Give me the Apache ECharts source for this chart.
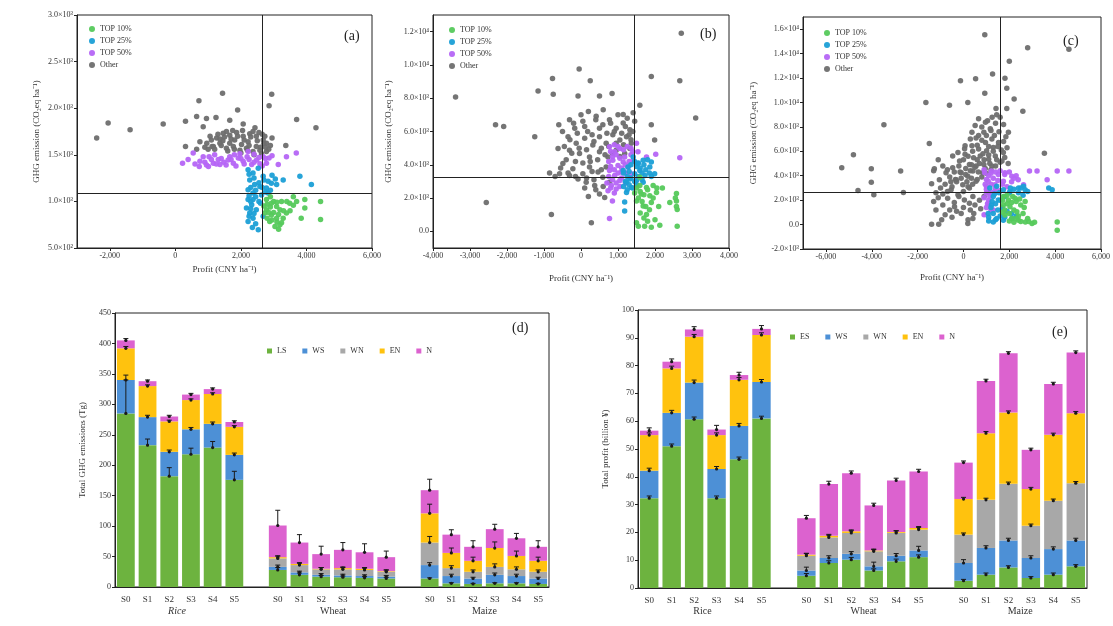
<!DOCTYPE html>
<html><head><meta charset="utf-8">
<script src="https://cdn.jsdelivr.net/npm/echarts@6/dist/echarts.min.js"></script>
<style>html,body{margin:0;padding:0;background:#fff}#c{width:1113px;height:626px}</style>
</head><body><div id="c"></div>
<script>
// ---------- Panel (a) ----------
const aTop10 = [[2780,1020],[2930,980],[3090,945],[3240,1000],[2780,910],[2930,855],[3090,820],[2880,785],[3040,730],[3240,770],[3390,875],[3490,980],[3700,1000],[3950,1020],[3950,930],[3840,820],[4430,1000],[4430,805],[3190,750],[3190,910],[2730,875],[3290,820],
  [2800,970],[2900,940],[3000,1000],[3100,990],[2850,880],[3000,880],[3150,860],[3300,900],[2950,800],[3100,780],[2800,820],[2700,950],[3400,1000],[3600,960],[3500,900],[2900,1050],[3150,700],[3600,1050]];
const aTop25 = [[2220,1340],[2370,1305],[2530,1355],[2680,1270],[2830,1215],[2270,1230],[2420,1180],[2580,1160],[2780,1145],[2930,1195],[2220,1125],[2370,1090],[2630,1070],[2830,1090],[3090,1180],[3290,1230],[3800,1270],[4150,1180],[2220,1020],[2330,965],[2270,875],[2370,820],[2220,785],[2530,695],[2680,840],[2470,910],[2170,930],[2370,1020],
  [2250,1290],[2400,1250],[2550,1200],[2700,1230],[2300,1150],[2450,1120],[2650,1150],[2750,1100],[2900,1120],[2250,1060],[2450,1050],[2550,1000],[2300,920],[2400,870],[2600,980],[2250,840],[2450,760],[2350,720],[2300,1000],[3050,1240],[2950,1280]];
const aTop50 = [[220,1410],[390,1450],[545,1520],[730,1375],[900,1420],[1030,1480],[1160,1410],[1310,1450],[1480,1420],[1660,1480],[1770,1410],[1920,1465],[2070,1430],[2190,1480],[2330,1395],[2480,1445],[2680,1480],[2780,1410],[2860,1465],[3140,1395],[3690,1520],[3390,1480],[850,1480],[1360,1395],[1010,1375],[1610,1445],[1970,1510],[2220,1535],[2580,1405],
  [600,1400],[750,1430],[1100,1450],[1250,1400],[1400,1460],[1550,1390],[1700,1450],[1850,1380],[2000,1460],[2100,1400],[2250,1450],[2400,1420],[2550,1470],[2650,1380],[2750,1460],[2950,1490],[1200,1500],[1800,1500],[2400,1505],[950,1390]];
const aOther = [[-2400,1680],[-2050,1840],[-1380,1770],[-370,1830],[310,1860],[310,1590],[720,2080],[650,1910],[950,1890],[850,1800],[1240,1900],[1440,2160],[1660,1870],[1900,1980],[2070,1830],[2430,1790],[2940,2150],[2860,2025],[3700,1880],[4290,1790],[3370,1600],[1120,1590],[1060,1700],[1260,1680],[1460,1730],[1660,1710],[1870,1740],[2070,1700],[2270,1725],[2470,1700],[2680,1660],[2780,1625],[960,1625],[1160,1590],[1360,1625],[1560,1570],[1770,1590],[1970,1550],[2170,1570],[2370,1535],[2580,1550],[2780,1535],[750,1640],[1810,1660],[2220,1640],[1360,1670],[1660,1625],[2020,1610],[2470,1590],[2630,1510],[2730,1700],[2370,1750],[1560,1750],
  [1100,1660],[1300,1720],[1500,1690],[1700,1670],[1900,1700],[2100,1660],[2300,1690],[2500,1650],[2700,1620],[2900,1600],[1200,1560],[1400,1600],[1600,1540],[1800,1560],[2000,1520],[2200,1550],[2400,1500],[2600,1580],[2850,1560],[900,1580],[1000,1560],[2050,1760],[1750,1760],[2550,1740],[2950,1680],[2250,1600],[1450,1650],[650,1560],[2750,1580],[2650,1720]];
const aRefX = 2640, aRefY = 1090;
const aXTicks = [-2000,0,2000,4000,6000];

// ---------- Panel (b) ----------
const bTop10 = [[1590,2750],[1770,2640],[1950,2750],[1630,2240],[1860,2140],[1500,1830],[1680,1530],[1900,1730],[1770,1020],[1500,510],[1720,310],[1900,240],[2130,370],[2580,2280],[2580,1830],[2600,1320],[2400,1730],[2600,310],[2040,2340],[1590,3250],
  [1500,2600],[1600,2400],[1700,2200],[1800,2500],[1550,2000],[1650,1800],[1750,1500],[1850,1300],[1950,2000],[2050,2600],[1600,1100],[1700,800],[1800,600],[1550,300],[2000,700],[2200,2600],[2550,2000],[2580,1500],[1450,2300],[2100,1500]];
const bTop25 = [[1410,4470],[1540,4070],[1680,4270],[1860,3860],[1990,3460],[1590,3660],[1450,3460],[1320,3150],[1230,2950],[1500,3050],[1730,3360],[1900,4170],[1230,2340],[1180,1770],[1180,1220],[1360,2640],[1140,3660],[1270,3860],[1680,2950],
  [1150,3500],[1250,3300],[1350,3200],[1450,3000],[1550,3300],[1650,3500],[1750,3700],[1850,3500],[1200,3000],[1300,2800],[1400,2600],[1500,2800],[1600,3800],[1700,4000],[1800,4300],[1450,4200],[1350,4000],[1550,4100],[1250,2500],[1150,2700],[1650,3100],[1900,3300],[1500,3900],[1300,3600]];
const bTop50 = [[770,5080],[910,4780],[1050,4980],[1180,4470],[860,4270],[1000,3960],[1140,4170],[1270,3860],[1410,4270],[770,3660],[910,3360],[1050,3050],[820,2750],[730,2440],[950,2540],[1540,4780],[1770,4470],[2020,4640],[2670,4430],[850,1830],[770,770],[1500,5290],[1360,3460],[1090,3560],
  [750,4200],[850,4500],[950,4600],[1050,4400],[1150,4900],[1250,5100],[1350,4600],[800,3900],[900,3700],[1000,3500],[1100,3800],[1200,4000],[1300,4200],[750,3300],[850,3100],[950,2900],[1050,2700],[800,2600],[900,2300],[1100,3200],[1200,3500],[1350,5000],[1000,5100],[900,5200],[1400,4800],[700,2900],[800,4800],[1200,2900]];
const bOther = [[-3390,8070],[-2560,1730],[-2310,6410],[-2090,6300],[-1250,5690],[-1160,8440],[-770,9190],[-750,8240],[-800,1020],[-620,4980],[-580,3460],[-50,9760],[-80,8140],[250,9050],[280,510],[500,8140],[840,8280],[1900,9300],[2710,11900],[2670,9050],[3100,6810],[1590,7570],[1900,6410],[1990,5490],[-310,6710],[-170,6200],[50,6610],[180,6000],[410,6910],[590,6410],[770,6710],[950,6200],[1140,6510],[1320,6100],[-350,5690],[-130,5290],[100,5590],[320,5190],[500,5690],[680,5290],[860,5800],[1050,5490],[1230,5690],[1360,5290],[-310,4880],[-40,4680],[230,4470],[500,4780],[730,4470],[950,4880],[1180,4680],[1320,4980],[-490,4070],[-220,3760],[50,3460],[230,3860],[460,3560],[590,3250],[770,2950],[140,2950],[370,2750],[500,2240],[640,2030],[-80,3150],[-310,3360],[680,3860],[1140,7020],[1410,7120],[1450,6610],
  [-500,6000],[-300,5500],[-100,5900],[100,6300],[300,5800],[500,6200],[700,5900],[900,6000],[1100,5900],[1300,5800],[-450,5100],[-250,4700],[-50,5000],[150,4900],[350,5400],[550,5000],[750,5100],[950,5300],[1150,5200],[1350,5500],[-400,4300],[-150,4200],[50,4100],[250,4200],[450,4300],[650,4600],[850,4700],[1050,4500],[-550,3800],[-350,3500],[-150,3300],[150,3200],[350,3100],[550,3700],[300,3600],[100,2600],[400,2500],[600,2700],[200,2100],[-700,3300],[-850,3500],[-200,6500],[200,7200],[600,7300],[1000,7000],[1250,6800],[800,6500],[400,6700],[0,7000],[-600,6400],[1200,6300],[1400,6000]];
const bRefX = 1430, bRefY = 3270;
const bYTicks = [0,2000,4000,6000,8000,10000,12000];

// ---------- Panel (c) ----------
const cTop10 = [[1740,2300],[1960,2020],[2250,2160],[2030,1470],[2330,1050],[1810,780],[2110,500],[2400,360],[2700,220],[2990,80],[2690,1880],[4090,220],[4090,-470],[1740,1610],
  [1700,2000],[1900,1700],[2100,1800],[2300,1900],[2500,1600],[1800,1200],[2000,900],[2200,1200],[2400,700],[2600,900],[2800,500],[2000,300],[2200,200],[2500,250],[1900,2400],[2150,2300],[2450,2100],[2650,1400],[2300,500],[1700,1000],[3100,200],[2850,250]];
const cTop25 = [[1150,2990],[1450,3130],[1740,2850],[2030,2710],[2400,2990],[2690,2850],[1300,2300],[1520,2020],[1220,1610],[1080,910],[1450,500],[1740,360],[1300,220],[2110,500],[3720,2990],[3870,2850],[2620,3130],
  [1100,600],[1300,900],[1500,1200],[1700,1400],[1900,1100],[2100,900],[2300,700],[1200,1400],[1400,1700],[1600,2000],[1800,2300],[2000,2600],[2200,2900],[2400,2600],[2600,2400],[1100,300],[1400,400],[1600,700],[1800,600],[2500,3000],[2800,2700],[1350,2500],[1550,2600],[2050,3000],[1250,1900]];
const cTop50 = [[930,4240],[1220,4380],[1520,4100],[1810,4240],[2110,3960],[2390,3680],[1080,3550],[1370,3270],[1000,2580],[1080,1750],[1300,1190],[1000,3130],[1740,3550],[2620,3270],[2880,4380],[3210,4380],[3650,3680],[4090,4380],[4600,4380],
  [900,4500],[1100,4000],[1300,3800],[1500,3600],[1700,3300],[1900,3100],[2100,3500],[2300,4000],[1000,3700],[1200,3300],[1400,3000],[1600,2800],[1000,2900],[1200,2600],[900,2200],[1100,2000],[1000,1400],[1200,1200],[900,800],[1200,4200],[1600,4400],[2000,4300],[2200,3800],[1400,4300],[1800,4100],[950,3300],[1150,2300],[1350,2700],[1050,1700]];
const cOther = [[-5310,4650],[-4800,5710],[-4600,2800],[-4020,3460],[-4020,4570],[-3910,2440],[-3470,8170],[-2740,4380],[-2620,2630],[-1640,10000],[-1390,3350],[-1490,6650],[-1270,4570],[-610,9780],[-130,11770],[190,10000],[530,11940],[930,15540],[930,10750],[1270,12330],[1420,9500],[1810,11990],[1890,11160],[2000,13380],[2210,10280],[2590,9280],[2800,14490],[4600,14350],[3530,5840],[-1080,30],[190,80],[410,500],[-900,1610],[-1390,30],[660,8670],[960,8390],[890,7560],[1170,7840],[660,7290],[1240,7010],[960,6730],[1530,6730],[370,6450],[660,6180],[1010,6040],[1300,6320],[1740,5900],[70,5760],[440,5480],[730,5620],[1100,5350],[1390,5620],[1680,5210],[-170,5210],[260,4930],[550,4790],[890,4930],[1240,4790],[-470,4650],[-100,4240],[190,3960],[410,4380],[-320,3680],[-30,3270],[260,2990],[-540,2850],[-240,2440],[40,2020],[410,2300],[-690,2160],[-390,1470],[-100,910],[260,1750],[550,3550],[840,4240],[1890,9500],[1960,7560],[-240,5900],[70,6450],[370,7560],[510,8120],[-470,5620],[-760,4240],[-1050,3680],
  [-1200,2600],[-1000,3000],[-800,3300],[-600,3900],[-400,4300],[-200,4800],[0,5300],[200,5600],[400,6000],[600,6500],[800,6900],[1000,7300],[1200,7700],[1400,8300],[1600,8800],[-1300,1900],[-1100,2200],[-900,2500],[-700,2700],[-500,3100],[-300,3500],[-100,3800],[100,4100],[300,4400],[500,4700],[700,5000],[900,5300],[1100,5700],[1300,6000],[1500,6400],[-600,1200],[-400,1800],[-200,2300],[0,2700],[200,3100],[400,3300],[600,3700],[800,3900],[1000,4200],[1200,4500],[1400,4800],[1600,5100],[1800,5500],[-800,800],[-500,600],[-300,1100],[0,1400],[300,1200],[500,1600],[700,2000],[900,2300],[1100,2600],[150,3500],[350,3800],[650,4300],[950,4600],[1150,5000],[1450,5300],[1650,6100],[1750,6800],[1350,7300],[1100,6400],[850,5800],[600,5300],[350,4900],[100,4600],[-150,4300],[-350,3700],[-550,3500],[-700,4500],[-900,4800],[-1100,5300],[-1300,4400],[1550,7600],[1750,8200],[1450,9000],[1250,8800],[1850,7200],[1900,6300],[1950,5000],[-1200,1200],[-950,400],[200,400],[450,900],[750,1300],[50,6200],[300,7000],[550,7100],[800,8000],[1050,8500]];
const cRefX = 1590, cRefY = 2660;
const cXTicks = [-6000,-4000,-2000,0,2000,4000,6000];
const cYTicks = [-2000,0,2000,4000,6000,8000,10000,12000,14000,16000];

// ---------- Panel (d): Total GHG emissions (Tg), order Rice S0-S5, Wheat S0-S5, Maize S0-S5 ----------
const stageLabels = ['S0','S1','S2','S3','S4','S5'];
const cropNames = ['Rice','Wheat','Maize'];
const dNames = ['LS','WS','WN','EN','N'];
const dLS = [285,233,182,218,229,176, 28,20,17,16,15,14, 14,6,5,6,6,5];
const dWS = [55,46,40,41,39,41, 5,4,3,3,3,3, 22,12,9,14,12,9];
const dWN = [0,0,0,0,0,0, 14,12,9,10,10,8, 37,13,11,13,11,11];
const dEN = [52,51,50,48,49,46, 2,2,1,2,2,1, 48,25,18,31,22,18];
const dN  = [13,8,8,9,8,8, 52,35,24,30,27,23, 38,30,23,31,29,23];
const dErrLS = [55,10,14,10,10,14, 4,3,2,2,2,2, 1,1,1,1,1,1];
const dErrWS = [8,3,3,3,3,3, 3,2,2,2,2,2, 4,3,2,3,3,2];
const dErrWN = [0,0,0,0,0,0, 4,3,3,3,3,3, 10,4,3,5,4,3];
const dErrEN = [3,2,2,2,2,2, 2,2,2,2,2,2, 15,8,6,10,8,6];
const dErrN  = [3,2,2,2,2,2, 25,13,13,12,14,10, 18,8,10,8,8,10];

// ---------- Panel (e): Total profit (billion ¥) ----------
const eNames = ['ES','WS','WN','EN','N'];
const eES = [32.3,51,60.7,32.3,46.3,61, 4.4,9,10.2,6.3,9.6,11.1, 2.6,4.8,7.4,3.6,4.8,7.8];
const eWS = [9.9,12,13.2,10.5,12,13.1, 1.9,1.8,2.1,1.5,2,2.4, 6.4,9.6,9.7,7.2,9.2,9.3];
const eWN = [0,0,0,0,0,0, 5.3,7.4,7.5,5.4,8.2,7.5, 10.2,17.3,20.4,11.6,17.4,20.6];
const eEN = [12.8,16,16.5,12.2,16.6,16.9, 0.4,0.6,0.6,0.3,0.3,0.6, 12.8,24,25.6,13.2,23.7,25.2];
const eN  = [1.6,2.4,2.6,2,1.7,2.2, 13.1,18.6,20.9,16.2,18.6,20.3, 13.1,18.8,21.3,14.1,18.3,21.8];
const eErrES = [0.8,0.8,0.8,0.8,0.8,0.8, 0.8,0.8,0.8,0.6,0.8,0.8, 0.5,0.6,0.6,0.5,0.6,0.6];
const eErrWS = [0.9,0.9,0.9,0.9,0.9,0.9, 1.2,0.8,0.8,1.5,0.8,1.5, 1.2,0.8,0.8,0.8,0.8,0.8];
const eErrWN = [0,0,0,0,0,0, 0.8,0.8,0.8,0.6,0.8,0.8, 0.6,0.6,0.6,0.6,0.6,0.6];
const eErrEN = [0.8,0.8,0.8,0.8,0.8,0.8, 0.5,0.5,0.5,0.5,0.5,0.5, 0.6,0.6,0.6,0.6,0.6,0.6];
const eErrN  = [1,1,1,1.5,1,1.2, 1,1,0.8,0.8,0.8,0.8, 0.6,0.6,0.6,0.6,0.6,0.6];

// ---------- styling ----------
const FONT = 'Liberation Serif';
const scatterColors = {'TOP 10%':'#55c95b','TOP 25%':'#1b9fd6','TOP 50%':'#b565f5','Other':'#6e6e6e'};
const barColors = ['#6db33f','#4d90d6','#a8a8a8','#ffc20e','#dc62cf'];
const axisCol = '#222';

const supMap = {'-':'⁻','0':'⁰','1':'¹','2':'²','3':'³','4':'⁴','5':'⁵','6':'⁶','7':'⁷','8':'⁸','9':'⁹'};
function sci(v){
  if (Math.abs(v) < 1e-9) return '0.0';
  const e = Math.floor(Math.log10(Math.abs(v)) + 1e-9);
  const m = v / Math.pow(10, e);
  return m.toFixed(1) + '×10' + String(e).split('').map(c => supMap[c]).join('');
}

const grids = [
  {left:77, top:15, width:295, height:233},
  {left:433, top:15, width:296, height:233},
  {left:803, top:17, width:298, height:232},
  {left:115, top:313, width:434, height:274},
  {left:638, top:310, width:449, height:278}
].map(g => Object.assign({show:true, borderColor:axisCol, borderWidth:1, containLabel:false}, g));

function valAxis(gi, opt){
  return Object.assign({
    type:'value', gridIndex:gi, scale:false,
    axisLine:{show:true, onZero:false, lineStyle:{color:axisCol, width:1}},
    axisTick:{show:true, inside:false, length:3, lineStyle:{color:axisCol}},
    splitLine:{show:false},
    axisLabel:{fontFamily:FONT, fontSize:8, color:'#333', margin:4},
    nameTextStyle:{fontFamily:FONT, fontSize:9, color:'#333'},
    nameLocation:'middle'
  }, opt);
}

const xAxes = [
  valAxis(0,{min:-3000,max:6000,name:'Profit (CNY ha⁻¹)',nameGap:17,
    axisLabel:{fontFamily:FONT,fontSize:8,color:'#333',margin:4,customValues:aXTicks},
    axisTick:{show:true,length:3,lineStyle:{color:axisCol},customValues:aXTicks}}),
  valAxis(1,{min:-4000,max:4000,interval:1000,name:'Profit (CNY ha⁻¹)',nameGap:26}),
  valAxis(2,{min:-7000,max:6000,name:'Profit (CNY ha⁻¹)',nameGap:24,
    axisLabel:{fontFamily:FONT,fontSize:8,color:'#333',margin:4,customValues:cXTicks},
    axisTick:{show:true,length:3,lineStyle:{color:axisCol},customValues:cXTicks}})
];
const yAxes = [
  valAxis(0,{min:500,max:3000,interval:500,name:'GHG emission (CO₂eq ha⁻¹)',nameGap:36,
    axisLabel:{fontFamily:FONT,fontSize:8,color:'#333',margin:4,formatter:sci}}),
  valAxis(1,{min:-1000,max:13000,name:'GHG emission (CO₂eq ha⁻¹)',nameGap:40,
    axisLabel:{fontFamily:FONT,fontSize:8,color:'#333',margin:4,formatter:sci,customValues:bYTicks},
    axisTick:{show:true,length:3,lineStyle:{color:axisCol},customValues:bYTicks}}),
  valAxis(2,{min:-2000,max:17000,name:'GHG emission (CO₂eq ha⁻¹)',nameGap:45,
    axisLabel:{fontFamily:FONT,fontSize:8,color:'#333',margin:4,formatter:sci,customValues:cYTicks},
    axisTick:{show:true,length:3,lineStyle:{color:axisCol},customValues:cYTicks}})
];

// bottom category axes
function withGaps(arr){ return [...arr.slice(0,6), '-', ...arr.slice(6,12), '-', ...arr.slice(12,18)]; }
const catData = [...stageLabels, '', ...stageLabels, '', ...stageLabels];
[3,4].forEach(gi => {
  xAxes.push({type:'category', gridIndex:gi, data:catData,
    axisLine:{show:true, lineStyle:{color:axisCol}}, axisTick:{show:false},
    axisLabel:{fontFamily:FONT, fontSize:9, color:'#333', margin:8, interval:0}});
});
yAxes.push(valAxis(3,{min:0,max:450,interval:50,name:'Total GHG emissions (Tg)',nameGap:28}));
yAxes.push(valAxis(4,{min:0,max:100,interval:10,name:'Total profit (billion ¥)',nameGap:28}));

const series = [];
const panels = [
  [aTop10,aTop25,aTop50,aOther,aRefX,aRefY],
  [bTop10,bTop25,bTop50,bOther,bRefX,bRefY],
  [cTop10,cTop25,cTop50,cOther,cRefX,cRefY]
];
const sNames = ['TOP 10%','TOP 25%','TOP 50%','Other'];
panels.forEach((p, gi) => {
  // draw Other first so coloured groups sit on top
  [3,2,1,0].forEach(k => {
    series.push({type:'scatter', name:sNames[k], xAxisIndex:gi, yAxisIndex:gi,
      data:p[k], symbol:'circle', symbolSize:5.5,
      itemStyle:{color:scatterColors[sNames[k]], opacity:0.95}, silent:true});
  });
  series.push({type:'scatter', name:'ref'+gi, xAxisIndex:gi, yAxisIndex:gi, data:[], silent:true,
    markLine:{silent:true, symbol:'none', label:{show:false}, animation:false,
      lineStyle:{color:'#222', width:1, type:'solid'},
      data:[{xAxis:p[4]},{yAxis:p[5]}]}});
});

function addBars(gi, names, arrays, errs){
  const cum = new Array(18).fill(0);
  const errData = [];
  arrays.forEach((arr, s) => {
    series.push({type:'bar', name:names[s], stack:'st'+gi, xAxisIndex:gi, yAxisIndex:gi,
      data:withGaps(arr), barWidth:'82%', itemStyle:{color:barColors[s]}, silent:true, animation:false});
    arr.forEach((v, i) => {
      cum[i] += v;
      const idx = i < 6 ? i : (i < 12 ? i + 1 : i + 2);
      if (v > 0) errData.push([idx, cum[i], errs[s][i]]);
    });
  });
  series.push({type:'custom', name:'err'+gi, xAxisIndex:gi, yAxisIndex:gi, data:errData, silent:true,
    encode:{x:0, y:1}, z:5, animation:false,
    renderItem:(params, api) => {
      const p0 = api.coord([api.value(0), api.value(1)]);
      const p1 = api.coord([api.value(0), api.value(1) + api.value(2)]);
      return {type:'group', children:[
        {type:'line', shape:{x1:p0[0], y1:p0[1], x2:p0[0], y2:p1[1]}, style:{stroke:'#1a1a1a', lineWidth:1}},
        {type:'line', shape:{x1:p0[0]-2.5, y1:p1[1], x2:p0[0]+2.5, y2:p1[1]}, style:{stroke:'#1a1a1a', lineWidth:1}},
        {type:'circle', shape:{cx:p0[0], cy:p0[1], r:1.6}, style:{fill:'#1a1a1a'}}
      ]};
    }});
}
addBars(3, dNames, [dLS,dWS,dWN,dEN,dN], [dErrLS,dErrWS,dErrWN,dErrEN,dErrN]);
addBars(4, eNames, [eES,eWS,eWN,eEN,eN], [eErrES,eErrWS,eErrWN,eErrEN,eErrN]);

const scatterLegend = (left, top) => ({orient:'vertical', left, top, data:sNames, itemWidth:6, itemHeight:6,
  itemGap:4, icon:'circle', textStyle:{fontFamily:FONT, fontSize:8, color:'#333'}, selectedMode:false});
const barLegend = (left, top, names) => ({orient:'horizontal', left, top, data:names, itemWidth:5, itemHeight:5,
  itemGap:16, icon:'rect', textStyle:{fontFamily:FONT, fontSize:8, color:'#333'}, selectedMode:false});

// group labels under bottom panels
const graphics = [];
function groupLabels(g, italic){
  const slot = g.width / 20;
  [3, 10, 17].forEach((c, k) => {
    graphics.push({type:'text', left: g.left + c * slot - 12, top: 606,
      style:{text:cropNames[k], fontFamily:FONT, fontSize:10, fontStyle: (italic && k===0) ? 'italic' : 'normal', fill:'#333'}});
  });
}
groupLabels(grids[3], true);
groupLabels(grids[4], false);
[['(a)',344,29],['(b)',700,27],['(c)',1063,34],['(d)',512,321],['(e)',1052,325]].forEach(t => {
  graphics.push({type:'text', left:t[1], top:t[2], style:{text:t[0], fontFamily:FONT, fontSize:14, fill:'#222'}});
});

const chart = echarts.init(document.getElementById('c'), null, {renderer:'canvas'});
chart.setOption({
  animation:false,
  backgroundColor:'#fff',
  grid:grids,
  xAxis:xAxes,
  yAxis:yAxes,
  legend:[
    scatterLegend(84, 20), scatterLegend(444, 21), scatterLegend(819, 24),
    barLegend(262, 342, dNames), barLegend(785, 328, eNames)
  ],
  series,
  graphic:graphics
});
</script>
</body></html>
